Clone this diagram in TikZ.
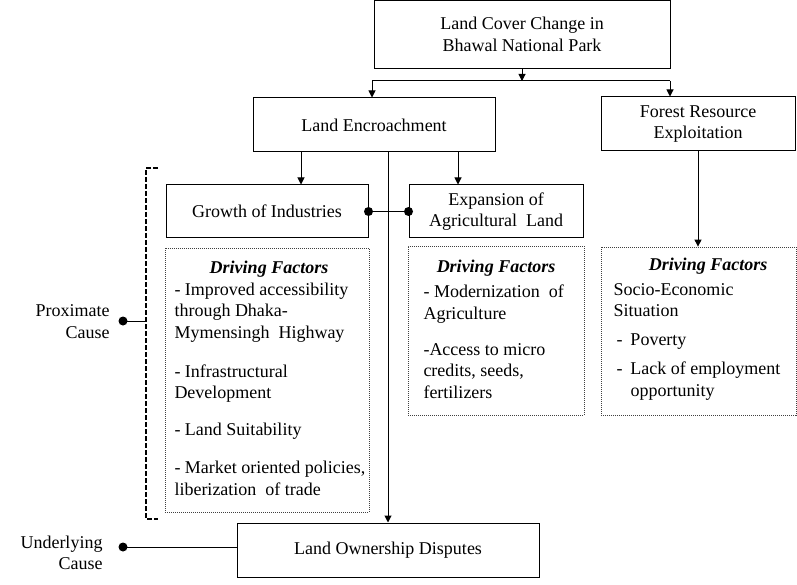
\documentclass[tikz,border=0pt]{standalone}
\usepackage{fontspec}
\setmainfont{Liberation Serif}
\usetikzlibrary{arrows.meta}
\begin{document}
\begin{tikzpicture}[x=1pt,y=-1pt,
  font=\fontsize{18}{21.5}\selectfont,
  line width=1pt,
  sbox/.style={draw, inner sep=0pt, align=center},
  dfbox/.style={draw=black!75, dash pattern=on 1pt off 1pt, line width=0.8pt, inner sep=0pt},
  hd/.style={font=\fontsize{18}{21.5}\selectfont\bfseries\itshape, inner sep=0pt},
  tb/.style={align=left, inner sep=0pt},
  arr/.style={-{Triangle[length=7pt,width=7pt]}},
  dot/.style={circle, fill, inner sep=0pt, minimum size=9pt},
  brk/.style={line width=1.5pt, dash pattern=on 5pt off 2pt}]
\useasboundingbox (0,0) rectangle (797,585);

% main boxes
\node[sbox, minimum width=296pt, minimum height=68pt] (top) at (522,34.5) {Land Cover Change in\\Bhawal National Park};
\node[sbox, minimum width=242pt, minimum height=54pt] (LE) at (374,125) {Land Encroachment};
\node[sbox, minimum width=194pt, minimum height=54pt] (FRE) at (698,124) {Forest Resource\\Exploitation};
\node[sbox, minimum width=202pt, minimum height=53pt] (GI) at (267,211.5) {Growth of Industries};
\node[sbox, minimum width=174pt, minimum height=53pt] (EAL) at (496,211.5) {Expansion of\\Agricultural\ \ Land};
\node[sbox, minimum width=302pt, minimum height=54pt] (LOD) at (388,550) {Land Ownership Disputes};

% dotted boxes
\node[dfbox, minimum width=204pt, minimum height=264pt] (DF1) at (267,380) {};
\node[dfbox, minimum width=176pt, minimum height=169pt] (DF2) at (496,330.5) {};
\node[dfbox, minimum width=195pt, minimum height=168pt] (DF3) at (698.5,331) {};

% driving factor texts (anchored at the baseline of the last line)
\node[hd] (DF1h) at (269,269) {Driving Factors};
\node[tb, anchor=base west] (DF1t) at (174,495) {- Improved accessibility\\through Dhaka-\\Mymensingh\ \ Highway\\[17.5pt]- Infrastructural\\Development\\[15.5pt]- Land Suitability\\[16.5pt]- Market oriented policies,\\liberization\ \ of trade};
\node[hd] (DF2h) at (496,268) {Driving Factors};
\node[tb, anchor=base west] (DF2t) at (423,398) {- Modernization\ \ of\\Agriculture\\[14.5pt]-Access to micro\\credits, seeds,\\fertilizers};
\node[hd] (DF3h) at (708,266) {Driving Factors};
\node[tb, anchor=base west] (DF3t) at (613,396) {Socio-Economic\\Situation\\[7.5pt]\makebox[17pt][l]{\,-}Poverty\\[7.5pt]\makebox[17pt][l]{\,-}Lack of employment\\\hspace*{17pt}opportunity};

% connectors from top
\coordinate (jt) at (522,81);
\coordinate (jl) at (372,81);
\coordinate (jr) at (670,81);
\draw[arr] (top.south) -- (jt);
\draw (jl) -- (jr);
\draw[arr] (jl) -- (jl |- LE.north);
\draw[arr] (jr) -- (jr |- FRE.north);

% from Land Encroachment
\coordinate (xg) at (301,0);
\coordinate (xm) at (388,0);
\coordinate (xe) at (458,0);
\draw[arr] (LE.south -| xg) -- (GI.north -| xg);
\draw[arr] (LE.south -| xe) -- (EAL.north -| xe);
\draw[arr] (LE.south -| xm) -- (LOD.north -| xm);

% from Forest
\draw[arr] (FRE.south) -- (FRE.south |- DF3.north);

% GI - EAL link
\node[dot] (d1) at (GI.east) {};
\node[dot] (d2) at (EAL.west) {};
\draw (d1.center) -- (d2.center);

% bracket
\coordinate (bt) at (158,168);
\coordinate (bb) at (158,519);
\coordinate (bx) at (146,0);
\draw[brk] (bt) -- (bt -| bx) -- (bb -| bx) -- (bb);

% cause labels
\node[anchor=east, align=right, inner sep=0pt] (prox) at (110,321.5) {Proximate\\Cause};
\node[dot] (pd) at (123,321) {};
\draw (pd.center) -- (pd.center -| bx);
\node[anchor=east, align=right, inner sep=0pt] (und) at (103,553) {Underlying\\Cause};
\node[dot] (ud) at (123,547) {};
\draw (ud.center) -- (ud.center -| LOD.west);
\end{tikzpicture}
\end{document}
